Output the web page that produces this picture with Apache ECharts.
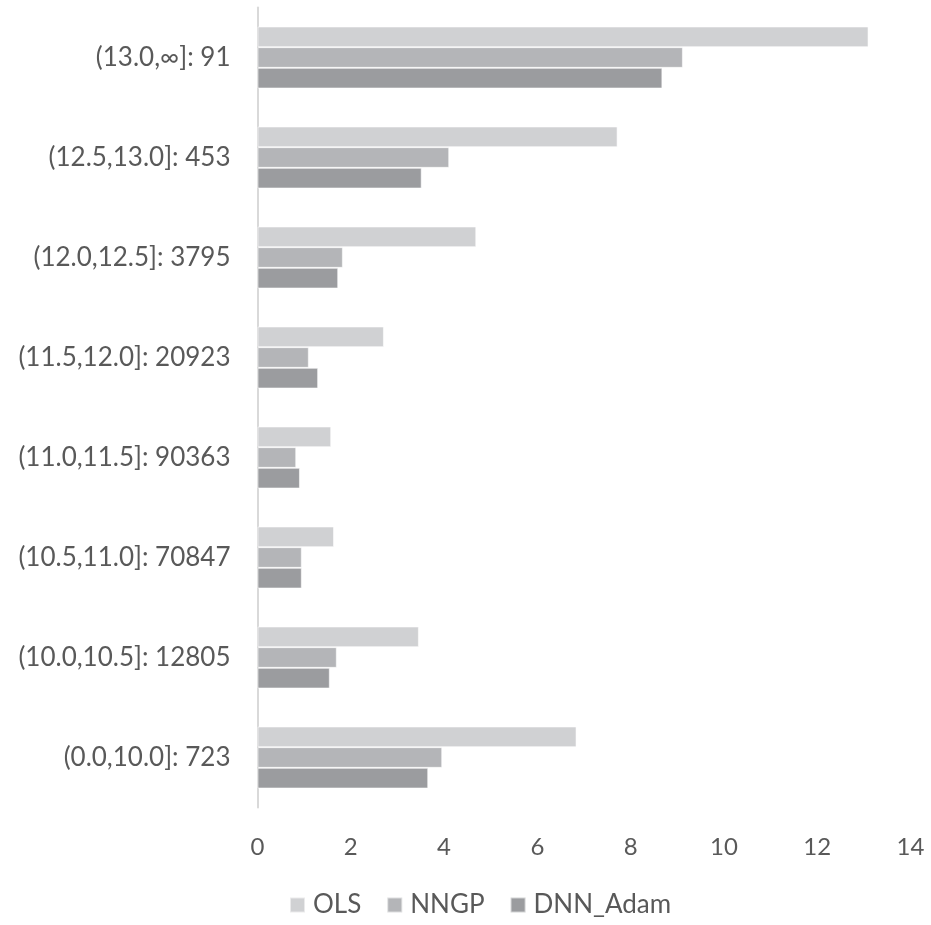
<!DOCTYPE html>
<html>
<head>
<meta charset="utf-8">
<script src="https://cdn.jsdelivr.net/npm/echarts@6/dist/echarts.min.js"></script>
<style>
  html, body { margin: 0; padding: 0; background: #ffffff; }
  #chart { width: 931px; height: 925px; }
</style>
</head>
<body>
<div id="chart"></div>
<script>
// Value bins (top to bottom) with sample counts
const categories = [
  '(13.0,∞]: 91',
  '(12.5,13.0]: 453',
  '(12.0,12.5]: 3795',
  '(11.5,12.0]: 20923',
  '(11.0,11.5]: 90363',
  '(10.5,11.0]: 70847',
  '(10.0,10.5]: 12805',
  '(0.0,10.0]: 723'
];

const seriesNames = ['OLS', 'NNGP', 'DNN_Adam'];

const olsValues  = [13.10, 7.72, 4.69, 2.71, 1.58, 1.64, 3.46, 6.84];
const nngpValues = [9.12, 4.11, 1.83, 1.10, 0.83, 0.95, 1.70, 3.96];
const dnnValues  = [8.68, 3.52, 1.73, 1.30, 0.91, 0.95, 1.55, 3.66];

const xTicks = { min: 0, max: 14, step: 2 };

const colors = ['#d0d1d3', '#b4b5b8', '#9b9c9f'];
const FONT = 'Lato, "Open Sans", sans-serif';
const TEXT = '#595959';

const chart = echarts.init(document.getElementById('chart'), null, { renderer: 'canvas' });

const valueLists = [olsValues, nngpValues, dnnValues];

chart.setOption({
  animation: false,
  backgroundColor: '#ffffff',
  color: colors,
  textStyle: { fontFamily: FONT, color: TEXT },
  grid: { left: 257.5, right: 20.5, top: 7.5, bottom: 117.5, containLabel: false },
  legend: {
    data: seriesNames,
    top: 892,
    left: 289,
    padding: 0,
    icon: 'rect',
    itemWidth: 15,
    itemHeight: 15,
    itemGap: 25,
    textStyle: { fontFamily: FONT, fontSize: 26, color: TEXT, padding: [0, 0, 0, 3] }
  },
  xAxis: {
    type: 'value',
    min: xTicks.min,
    max: xTicks.max,
    interval: xTicks.step,
    axisLine: { show: false },
    axisTick: { show: false },
    splitLine: { show: false },
    axisLabel: { fontFamily: FONT, fontSize: 24, color: TEXT, margin: 28 }
  },
  yAxis: {
    type: 'category',
    inverse: true,
    data: categories,
    axisLine: { show: true, lineStyle: { color: '#d9d9d9', width: 2 } },
    axisTick: { show: false },
    axisLabel: { fontFamily: FONT, fontSize: 26, color: TEXT, margin: 27 }
  },
  series: seriesNames.map((name, i) => ({
    name: name,
    type: 'bar',
    data: valueLists[i],
    barGap: '0%',
    barCategoryGap: '38%',
    itemStyle: { color: colors[i], borderColor: 'rgba(255,255,255,0.55)', borderWidth: 1 }
  }))
});
</script>
</body>
</html>
